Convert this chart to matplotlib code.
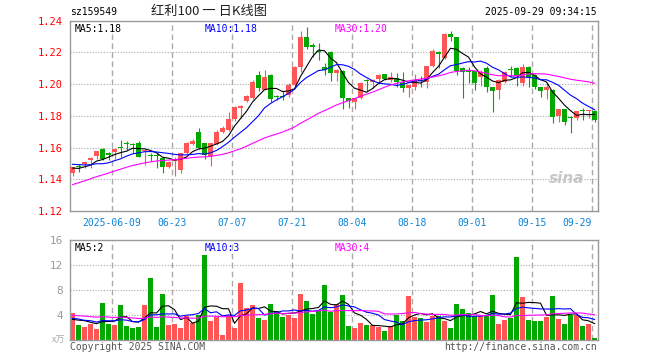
import pandas as pd
import matplotlib
matplotlib.use("Agg")
import matplotlib.pyplot as plt

# daily candles, 88 trading days ending 2025-09-29
open_ = [1.1441, 1.1482, 1.1494, 1.1521, 1.1548, 1.1590, 1.1565, 1.1569, 1.1600, 1.1626,
         1.1622, 1.1630, 1.1580, 1.1548, 1.1552, 1.1536, 1.1479, 1.1517, 1.1458, 1.1563,
         1.1622, 1.1696, 1.1626, 1.1548, 1.1620, 1.1700, 1.1710, 1.1780, 1.1848, 1.1893,
         1.1914, 1.2057, 1.1965, 1.2057, 1.1927, 1.1922, 1.1930, 1.1994, 1.2110, 1.2297,
         1.2247, 1.2205, 1.2110, 1.2204, 1.2068, 1.2083, 1.1910, 1.1889, 1.1910, 1.2026,
         1.2011, 1.2032, 1.2062, 1.2026, 1.2041, 1.2015, 1.1978, 1.1984, 1.2026, 1.2015,
         1.2114, 1.2205, 1.2167, 1.2314, 1.2299, 1.2100, 1.2085, 1.2082, 1.2047, 1.2099,
         1.1980, 1.1963, 1.2015, 1.2097, 1.2100, 1.2005, 1.2110, 1.2057, 1.1980, 1.1963,
         1.1963, 1.1801, 1.1843, 1.1795, 1.1788, 1.1832, 1.1828, 1.1830]
close = [1.1475, 1.1478, 1.1510, 1.1532, 1.1578, 1.1525, 1.1553, 1.1590, 1.1595, 1.1622,
         1.1618, 1.1542, 1.1583, 1.1545, 1.1548, 1.1479, 1.1510, 1.1527, 1.1563, 1.1626,
         1.1643, 1.1595, 1.1553, 1.1626, 1.1696, 1.1721, 1.1778, 1.1854, 1.1864, 1.1925,
         1.2015, 1.1978, 1.2043, 1.1905, 1.1922, 1.1919, 1.1994, 1.2110, 1.2297, 1.2234,
         1.2232, 1.2200, 1.2089, 1.2068, 1.2089, 1.1910, 1.1895, 1.1910, 1.2009, 1.2019,
         1.2026, 1.2057, 1.2032, 1.2043, 1.2015, 1.1978, 1.1994, 1.2026, 1.2020, 1.2114,
         1.2211, 1.2190, 1.2316, 1.2299, 1.2083, 1.2079, 1.2078, 1.2005, 1.2078, 1.1980,
         1.1958, 1.2026, 1.2078, 1.2092, 1.2051, 1.2110, 1.2043, 1.1980, 1.1958, 1.1980,
         1.1795, 1.1843, 1.1763, 1.1784, 1.1830, 1.1828, 1.1832, 1.1774]
high = [1.1480, 1.1494, 1.1517, 1.1542, 1.1580, 1.1597, 1.1573, 1.1592, 1.1647, 1.1643,
        1.1626, 1.1643, 1.1585, 1.1563, 1.1563, 1.1542, 1.1517, 1.1542, 1.1565, 1.1633,
        1.1653, 1.1725, 1.1626, 1.1630, 1.1710, 1.1736, 1.1826, 1.1860, 1.1870, 1.1931,
        1.2026, 1.2083, 1.2089, 1.2064, 1.1934, 1.1958, 1.2005, 1.2114, 1.2335, 1.2362,
        1.2261, 1.2257, 1.2135, 1.2207, 1.2095, 1.2090, 1.1915, 1.1915, 1.2015, 1.2030,
        1.2032, 1.2062, 1.2066, 1.2078, 1.2068, 1.2078, 1.1996, 1.2062, 1.2053, 1.2117,
        1.2220, 1.2210, 1.2320, 1.2335, 1.2299, 1.2110, 1.2110, 1.2085, 1.2090, 1.2113,
        1.1985, 1.2030, 1.2085, 1.2114, 1.2110, 1.2125, 1.2115, 1.2064, 1.1985, 1.2005,
        1.1970, 1.1845, 1.1845, 1.1800, 1.1832, 1.1847, 1.1834, 1.1835]
low = [1.1422, 1.1443, 1.1469, 1.1469, 1.1525, 1.1521, 1.1521, 1.1525, 1.1542, 1.1584,
       1.1563, 1.1540, 1.1489, 1.1517, 1.1469, 1.1437, 1.1472, 1.1422, 1.1437, 1.1560,
       1.1616, 1.1589, 1.1525, 1.1481, 1.1616, 1.1693, 1.1704, 1.1767, 1.1784, 1.1887,
       1.1908, 1.1958, 1.1963, 1.1890, 1.1900, 1.1900, 1.1920, 1.1988, 1.2074, 1.2220,
       1.2169, 1.2152, 1.2057, 1.2020, 1.2020, 1.1841, 1.1847, 1.1843, 1.1904, 1.1956,
       1.1973, 1.2005, 1.2026, 1.2015, 1.1984, 1.1952, 1.1921, 1.1963, 1.1984, 1.1978,
       1.2110, 1.2100, 1.2160, 1.2274, 1.2057, 1.1910, 1.2005, 1.1963, 1.1988, 1.1952,
       1.1822, 1.1906, 1.2010, 1.2043, 1.1990, 1.1990, 1.1984, 1.1967, 1.1920, 1.1906,
       1.1757, 1.1763, 1.1742, 1.1689, 1.1774, 1.1774, 1.1784, 1.1763]
volume = [4.32, 2.40, 2.08, 2.50, 1.76, 5.92, 2.56, 2.40, 5.60, 2.24,
          1.97, 2.08, 5.60, 9.92, 2.08, 7.36, 2.40, 2.56, 1.92, 3.84,
          2.77, 4.00, 13.60, 3.04, 3.63, 0.80, 3.95, 1.92, 9.12, 5.12,
          5.55, 3.52, 3.20, 5.76, 4.64, 3.68, 4.00, 3.52, 7.30, 6.24,
          4.16, 4.80, 8.80, 4.53, 5.76, 7.20, 2.24, 1.92, 2.72, 2.40,
          2.40, 2.08, 1.44, 2.24, 4.00, 3.04, 7.04, 3.68, 3.52, 2.88,
          3.84, 3.84, 3.04, 1.92, 5.76, 4.96, 4.32, 3.90, 3.84, 3.84,
          7.20, 2.56, 3.20, 3.52, 13.28, 6.88, 3.20, 3.04, 3.04, 3.68,
          7.04, 3.36, 2.56, 4.00, 4.00, 2.24, 2.56, 0.32]

# estimated days before the window, only used to start the moving averages
prior_close = [1.112, 1.115, 1.114, 1.118, 1.120, 1.119, 1.122, 1.124, 1.126, 1.128,
               1.130, 1.133, 1.135, 1.138, 1.140, 1.142, 1.144, 1.146, 1.148, 1.150,
               1.150, 1.153, 1.152, 1.151, 1.153, 1.149, 1.146, 1.148, 1.145]
prior_volume = [4.5, 3.8, 5.2, 4.0, 3.6, 4.8, 4.1, 3.9, 4.4, 3.7,
                5.0, 4.2, 3.5, 4.6, 3.9, 4.3, 4.0, 4.7, 3.8, 3.8,
                3.5, 4.2, 3.1, 4.0, 3.4, 3.0, 2.5, 3.8, 2.88]

tick_pos = [7, 17, 27, 37, 47, 57, 67, 77, 87]
tick_labels = ["2025-06-09", "06-23", "07-07", "07-21", "08-04",
               "08-18", "09-01", "09-15", "09-29"]
price_ticks = [1.12, 1.14, 1.16, 1.18, 1.20, 1.22, 1.24]
vol_ticks = [4, 8, 12, 16]

RED = "#ff5555"
GREEN = "#00a800"
GRID = "#aaaaaa"
MONO = "DejaVu Sans Mono"
CJK = ["Noto Sans CJK SC", "DejaVu Sans"]

n = len(close)
x = list(range(n))
np_ = len(prior_close)

closes = pd.Series(prior_close + close)
vols = pd.Series(prior_volume + volume)
ma_price = {k: closes.rolling(k).mean().iloc[np_:].values for k in (5, 10, 30)}
ma_vol = {k: vols.rolling(k).mean().iloc[np_:].values for k in (5, 10, 30)}

colors = [RED if c >= o else GREEN for o, c in zip(open_, close)]

W, H = 660, 360
fig = plt.figure(figsize=(6.6, 3.6), dpi=100)

ax = fig.add_axes([70 / W, (H - 211) / H, 528 / W, 190.3 / H])
axv = fig.add_axes([70 / W, 20 / H, 528 / W, 100 / H])

xmin, xmax = -2.5 / 6, 525.5 / 6

# ==========================
# K LINE
# ==========================

for xi in tick_pos:
    ax.axvline(xi - 2.5 / 6, color=GRID, lw=1, ls=(0, (4, 2.5)), zorder=1)
    axv.axvline(xi - 2.5 / 6, color=GRID, lw=1, ls=(0, (4, 2.5)), zorder=1)

for p in price_ticks[1:-1]:
    ax.axhline(p, color=GRID, lw=0.8, ls=(0, (1, 1.5)), zorder=1)

ax.vlines(x, low, high, colors=colors, lw=0.8, zorder=2)
body_low = [min(o, c) for o, c in zip(open_, close)]
body_h = [max(abs(c - o), 0.0006) for o, c in zip(open_, close)]
ax.bar(x, body_h, bottom=body_low, width=5 / 6, color=colors, lw=0, zorder=3)

ax.plot(x, ma_price[5], color="black", lw=0.8, zorder=4)
ax.plot(x, ma_price[10], color="#0000ff", lw=0.8, zorder=4)
ax.plot(x, ma_price[30], color="#ff00ff", lw=0.8, zorder=4)

ax.set_xlim(xmin, xmax)
ax.set_ylim(1.12, 1.24)
ax.set_yticks(price_ticks)
ax.set_yticklabels([f"{p:.2f}" for p in price_ticks], color="red",
                   family=MONO, fontsize=7.5)
ax.set_xticks([p - 2.5 / 6 for p in tick_pos])
ax.set_xticklabels(tick_labels, color="#0b84d8", family=MONO, fontsize=7)
ax.get_xticklabels()[-1].set_horizontalalignment("right")
ax.tick_params(length=0, pad=5)

for s in ax.spines.values():
    s.set_color("#999999")
    s.set_linewidth(1)

ax.text(0.009, 0.985, f"MA5:{ma_price[5][-1]:.2f}", transform=ax.transAxes,
        color="black", family=MONO, fontsize=7, va="top")
ax.text(135 / 528, 0.985, f"MA10:{ma_price[10][-1]:.2f}", transform=ax.transAxes,
        color="#0000ff", family=MONO, fontsize=7, va="top")
ax.text(265 / 528, 0.985, f"MA30:{ma_price[30][-1]:.2f}", transform=ax.transAxes,
        color="#ff00ff", family=MONO, fontsize=7, va="top")

ax.text(0.975, 0.17, "sina", transform=ax.transAxes, ha="right", va="center",
        color="#bbbbbb", fontsize=11, fontweight="bold", style="italic", alpha=0.8)

# ==========================
# VOLUME
# ==========================

for v in vol_ticks[:-1]:
    axv.axhline(v, color=GRID, lw=0.8, ls=(0, (1, 1.5)), zorder=1)

axv.bar(x, volume, width=5 / 6, color=colors, lw=0, zorder=2)
axv.plot(x, ma_vol[5], color="black", lw=0.8, zorder=3)
axv.plot(x, ma_vol[10], color="#0000ff", lw=0.8, zorder=3)
axv.plot(x, ma_vol[30], color="#ff00ff", lw=0.8, zorder=3)

axv.set_xlim(xmin, xmax)
axv.set_ylim(0, 16)
axv.set_yticks(vol_ticks)
axv.set_yticklabels([str(v) for v in vol_ticks], color="#999999", fontsize=7.5)
axv.set_xticks([])
axv.tick_params(length=0, pad=5)
for s in axv.spines.values():
    s.set_color("#999999")
    s.set_linewidth(1)

axv.text(0.009, 0.97, f"MA5:{int(ma_vol[5][-1])}", transform=axv.transAxes,
         color="black", family=MONO, fontsize=7, va="top")
axv.text(135 / 528, 0.97, f"MA10:{int(ma_vol[10][-1])}", transform=axv.transAxes,
         color="#0000ff", family=MONO, fontsize=7, va="top")
axv.text(265 / 528, 0.97, f"MA30:{int(ma_vol[30][-1])}", transform=axv.transAxes,
         color="#ff00ff", family=MONO, fontsize=7, va="top")

# ==========================
# HEADER / FOOTER
# ==========================

fig.text(70 / W, 1 - 12 / H, "sz159549", family=MONO, fontsize=7, va="center")
fig.text(209 / W, 1 - 12 / H, "红利100 一 日K线图", fontsize=9.5, va="center",
         ha="center", family=CJK, color="#222222")
fig.text(597 / W, 1 - 12 / H, "2025-09-29 09:34:15", family=MONO, fontsize=7,
         va="center", ha="right")
fig.text(65 / W, 1 - 340 / H, "x万", fontsize=6.5, va="center", ha="right",
         color="#aaaaaa", family=CJK)
fig.text(70 / W, 1 - 347 / H, "Copyright 2025 SINA.COM", family=MONO, fontsize=7,
         va="center", color="#555555")
fig.text(597 / W, 1 - 347 / H, "http://finance.sina.com.cn", family=MONO,
         fontsize=7, va="center", ha="right", color="#555555")

fig.savefig("out.png", dpi=100, facecolor="white")
plt.close(fig)
